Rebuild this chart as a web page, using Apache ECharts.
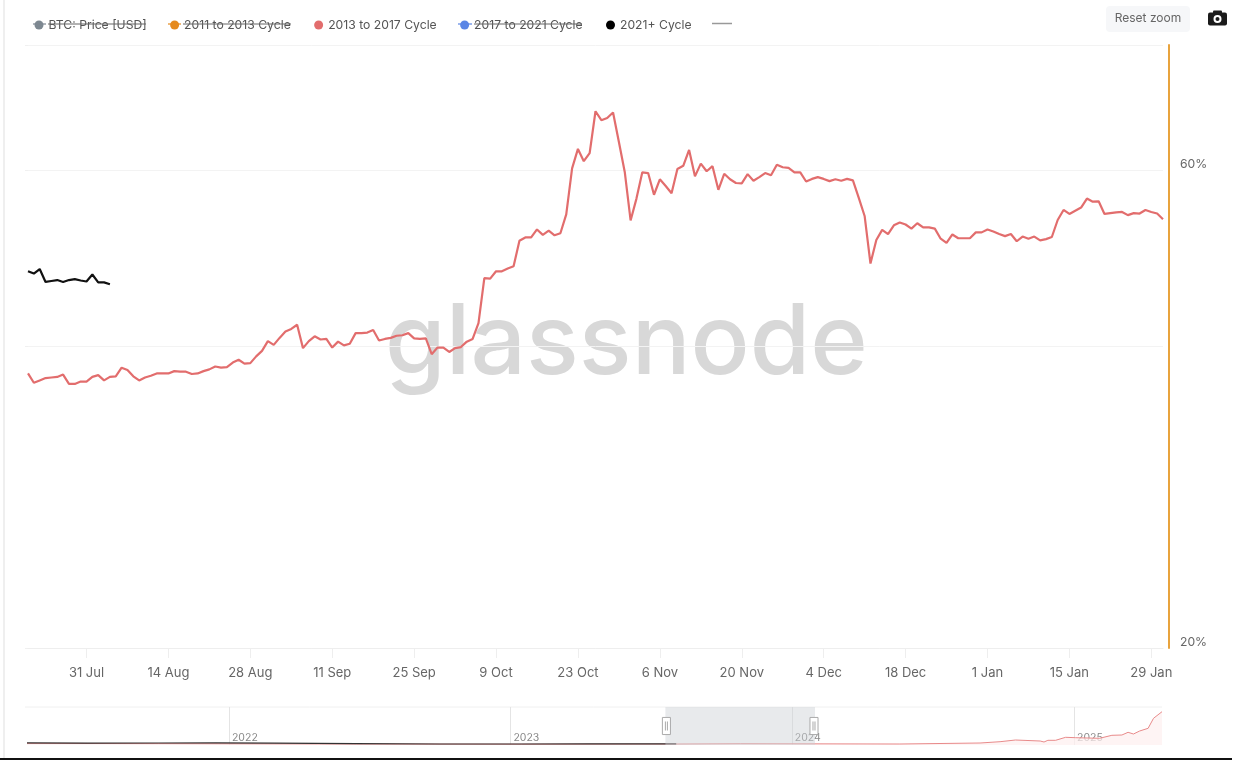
<!DOCTYPE html>
<html><head><meta charset="utf-8">
<style>html,body{margin:0;padding:0;background:#fff}#c{width:1248px;height:764px}</style>
<script src="https://cdn.jsdelivr.net/npm/echarts@6/dist/echarts.min.js"></script>
</head><body><div id="c"></div>
<script>
var firstDay = [2023, 6, 21];
var cycle2013 = [37.6,36.8,37.0,37.2,37.25,37.3,37.5,36.7,36.7,36.9,36.9,37.3,37.45,37.0,37.3,37.35,38.1,37.9,37.35,37.0,
37.25,37.4,37.6,37.6,37.6,37.8,37.75,37.75,37.55,37.6,37.8,37.95,38.2,38.1,38.15,38.55,38.8,38.45,38.5,39.1,
39.6,40.5,40.15,40.8,41.4,41.65,42.05,39.85,40.5,40.95,40.65,40.7,39.9,40.45,40.1,40.25,41.25,41.25,41.3,41.55,
40.55,40.7,40.8,41.0,41.05,41.25,40.75,40.7,40.75,39.3,39.9,39.9,39.5,39.85,39.95,40.45,40.7,42.2,46.8,46.75,
47.55,47.55,47.85,48.1,51.0,51.4,51.4,52.35,51.7,52.2,51.65,51.9,54.2,60.25,63.0,61.25,62.4,68.7,67.3,67.65,
68.5,64.0,59.75,53.45,56.2,59.7,59.6,56.7,58.75,57.85,56.9,60.15,60.6,62.85,59.15,60.9,59.85,60.55,57.35,59.5,
58.75,58.25,58.2,59.45,58.55,59.05,59.6,59.3,60.75,60.4,60.3,59.7,59.7,58.45,58.8,59.05,58.8,58.5,58.75,58.55,
58.8,58.6,56.3,54.0,48.4,51.1,52.3,51.8,52.85,53.2,52.95,52.45,53.1,52.6,52.6,52.45,51.25,50.75,51.75,51.3,
51.3,51.3,52.0,52.0,52.35,52.1,51.8,51.55,51.8,50.95,51.5,51.25,51.5,51.05,51.2,51.45,53.5,54.75,54.25,54.65,
55.05,56.2,55.8,55.85,54.25,54.35,54.45,54.5,54.1,54.35,54.3,54.75,54.5,54.3,53.6];
var cycle2021 = [47.56,47.3,47.8,46.4,46.5,46.6,46.4,46.6,46.7,46.55,46.45,47.2,46.35,46.35,46.15];

var tickDates = ['2023-07-31','2023-08-14','2023-08-28','2023-09-11','2023-09-25','2023-10-09','2023-10-23','2023-11-06','2023-11-20','2023-12-04','2023-12-18','2024-01-01','2024-01-15','2024-01-29'];
var tickLabels = ['31 Jul','14 Aug','28 Aug','11 Sep','25 Sep','9 Oct','23 Oct','6 Nov','20 Nov','4 Dec','18 Dec','1 Jan','15 Jan','29 Jan'];
var yTicks = [20,40,60,80];
var yLabels = [20,60];
var yearTicks = ['2022-01-01','2023-01-01','2024-01-01','2025-01-01'];
var yearLabels = ['2022','2023','2024','2025'];

var miniBlackDates = ['2021-04-14','2021-07-01','2021-10-01','2021-12-15','2022-03-01','2022-06-15','2022-10-01','2023-01-15','2023-04-15','2023-08-04'];
var miniBlackValues = [2.2,1.8,2.0,2.2,1.8,1.4,1.0,1.0,1.2,1.2];
var miniRedDates = ['2021-04-14','2021-10-01','2022-06-15','2023-01-15','2023-08-04','2023-10-26','2024-05-20','2024-09-01','2024-09-27','2024-10-17','2024-11-18','2024-11-23','2024-11-28','2024-12-08','2024-12-21','2025-01-03','2025-02-03','2025-02-19','2025-03-04','2025-03-12','2025-03-19','2025-03-27','2025-04-07','2025-04-14','2025-04-25'];
var miniRedValues = [1.6,1.4,1.0,0.8,1.0,1.3,1.0,2.0,3.3,5.0,4.0,3.0,4.7,4.7,7.7,7.3,6.7,9.7,10,12.7,11,14,16.7,26.7,33.3];

var legendNames = ['BTC: Price [USD]','2011 to 2013 Cycle','2013 to 2017 Cycle','2017 to 2021 Cycle','2021+ Cycle'];
var legendColors = ['#7d8891','#e58a1f','#e26d6d','#5b86e5','#000000'];

function ms(s){var p=s.split('-');return new Date(+p[0],+p[1]-1,+p[2]).getTime();}
function daily(vals){return vals.map(function(v,i){return [new Date(firstDay[0],firstDay[1],firstDay[2]+i).getTime(),v];});}
function pairs(d,v){return d.map(function(s,i){return [ms(s),v[i]];});}
var labelOf = {}, yearOf = {};
tickDates.forEach(function(d,i){labelOf[ms(d)]=tickLabels[i];});
yearTicks.forEach(function(d,i){yearOf[ms(d)]=yearLabels[i];});
var xMin = ms('2021-04-14'), xMax = ms('2025-04-25');

var font = 'Inter, "Noto Sans", sans-serif';
var strikes = [[33,46,'#7d8891'],[48,146,'#666'],[168,181,'#e58a1f'],[183,291,'#666'],[458,472,'#5b86e5'],[474,582,'#666']];
var g = [];
g.push({type:'text',z:0,silent:true,style:{x:385,y:296,text:'glassnode',font:'500 98px Inter, sans-serif',fill:'#d8d8d8'}});
strikes.forEach(function(s){g.push({type:'line',z:10,shape:{x1:s[0],y1:24,x2:s[1],y2:24},style:{stroke:s[2],lineWidth:1.2}});});
[45.5,170.5,346.5,648.5].forEach(function(y){g.push({type:'line',shape:{x1:25,y1:y,x2:28,y2:y},style:{stroke:'#f0f0f0',lineWidth:1}});});
g.push({type:'line',shape:{x1:712,y1:23.5,x2:732,y2:23.5},style:{stroke:'#999',lineWidth:1.5}});
g.push({type:'line',shape:{x1:25,y1:707,x2:1162,y2:707},style:{stroke:'#f0f0f0',lineWidth:1}});
g.push({type:'rect',shape:{x:1106,y:6,width:84,height:26,r:4},style:{fill:'#f6f7f9'}});
g.push({type:'text',z:2,style:{x:1148,y:18.5,text:'Reset zoom',font:'12px '+font,fill:'#666',align:'center',verticalAlign:'middle'}});
g.push({type:'rect',shape:{x:1208,y:12.5,width:19,height:13,r:2},style:{fill:'#1a1a1a'}});
g.push({type:'rect',shape:{x:1213,y:10.5,width:9,height:4,r:1},style:{fill:'#1a1a1a'}});
g.push({type:'circle',z:3,shape:{cx:1217.5,cy:19,r:4},style:{fill:'#fff'}});
g.push({type:'circle',z:4,shape:{cx:1217.5,cy:19,r:2},style:{fill:'#1a1a1a'}});
g.push({type:'rect',shape:{x:3,y:0,width:2,height:758},style:{fill:'#efefef'}});
g.push({type:'rect',shape:{x:0,y:758,width:1232,height:2},style:{fill:'#111'}});

var chart = echarts.init(document.getElementById('c'),null,{renderer:'canvas'});
chart.setOption({
  animation:false,
  backgroundColor:'#fff',
  textStyle:{fontFamily:font},
  legend:{show:true,left:29.5,top:14,itemWidth:9,itemHeight:9,itemGap:23.4,icon:'circle',
    data:legendNames,selectedMode:false,
    textStyle:{color:'#555',fontSize:12.2,fontFamily:font}},
  grid:[{left:28,right:85,top:45,bottom:116},{left:27,right:86,top:707,height:38}],
  xAxis:[{type:'value',gridIndex:0,min:xMin,max:xMax,scale:true,
      axisLine:{show:true,lineStyle:{color:'#eeeeee'}},
      axisTick:{show:true,length:10,lineStyle:{color:'#eeeeee'},customValues:tickDates.map(ms)},
      splitLine:{show:false},
      axisLabel:{customValues:tickDates.map(ms),color:'#666',fontSize:13,margin:19,hideOverlap:false,showMinLabel:true,showMaxLabel:true,
        formatter:function(v){return labelOf[v]||'';}}},
    {type:'value',gridIndex:1,min:xMin,max:xMax,scale:true,
      axisLine:{show:false},
      axisTick:{show:false,customValues:yearTicks.map(ms)},
      splitLine:{show:true,lineStyle:{color:'#e4e4e4'}},
      axisLabel:{customValues:yearTicks.map(ms),inside:true,margin:2,align:'left',color:'#888',fontSize:10.5,
        formatter:function(v){return ' '+(yearOf[v]||'');}}}],
  yAxis:[{type:'log',gridIndex:0,position:'right',min:20,max:80,offset:6,
      axisLine:{show:true,lineStyle:{color:'#e8a33d',width:2}},
      axisTick:{show:false,customValues:yTicks},
      minorTick:{show:false},minorSplitLine:{show:false},
      splitLine:{show:true,lineStyle:{color:'#f3f3f3'}},
      axisLabel:{customValues:yLabels,color:'#666',fontSize:12.2,margin:11,verticalAlign:'bottom',padding:[0,0,0,0],
        formatter:function(v){return Math.round(v)+'%';}}},
    {type:'value',gridIndex:1,show:false,min:0,max:38,splitLine:{show:false}}],
  dataZoom:[{type:'slider',xAxisIndex:0,left:26,right:87,top:707,height:38,
      startValue:ms('2023-07-21'),endValue:ms('2024-01-31'),filterMode:'none',
      showDetail:false,showDataShadow:false,brushSelect:false,
      backgroundColor:'rgba(0,0,0,0)',borderColor:'rgba(0,0,0,0)',
      fillerColor:'rgba(205,208,212,0.45)',
      moveHandleSize:0,
      handleIcon:'path://M0,0H8V17H0Z M3,4V13 M5,4V13',handleSize:'45%',
      handleStyle:{color:'#fff',borderColor:'#aaa',borderWidth:1}}],
  series:[
    {name:legendNames[0],type:'line',data:[],itemStyle:{color:legendColors[0]}},
    {name:legendNames[1],type:'line',data:[],itemStyle:{color:legendColors[1]}},
    {name:legendNames[2],type:'line',data:daily(cycle2013),showSymbol:false,itemStyle:{color:legendColors[2]},lineStyle:{color:legendColors[2],width:2.2},z:3},
    {name:legendNames[3],type:'line',data:[],itemStyle:{color:legendColors[3]}},
    {name:legendNames[4],type:'line',data:daily(cycle2021),showSymbol:false,itemStyle:{color:legendColors[4]},lineStyle:{color:'#111',width:2.2},z:4},
    {name:'mini 2013',type:'line',xAxisIndex:1,yAxisIndex:1,data:pairs(miniRedDates,miniRedValues),showSymbol:false,lineStyle:{color:'#e88a8a',width:1},areaStyle:{color:'#fdf0f0'},itemStyle:{color:'#e88a8a'}},
    {name:'mini 2021',type:'line',xAxisIndex:1,yAxisIndex:1,data:pairs(miniBlackDates,miniBlackValues),showSymbol:false,lineStyle:{color:'#333',width:1.2},itemStyle:{color:'#333'}}
  ],
  graphic:g
});
</script></body></html>
